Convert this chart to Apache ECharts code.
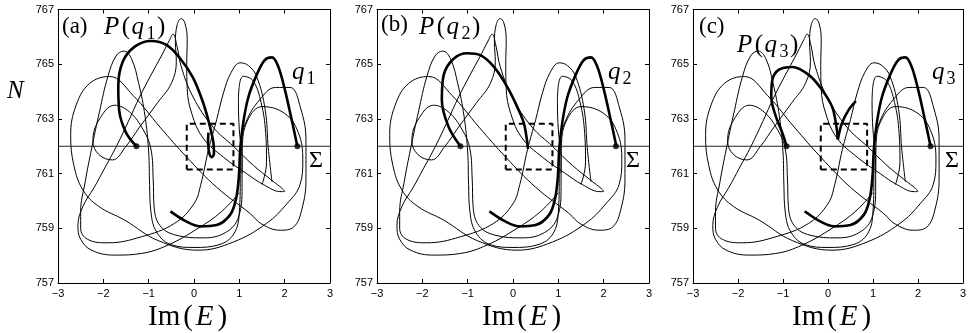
<!DOCTYPE html>
<html>
<head>
<meta charset="utf-8">
<script src="https://cdn.jsdelivr.net/npm/echarts@6/dist/echarts.min.js"></script>
<style>
  html, body { margin: 0; padding: 0; background: #fff; }
  #chart { width: 969px; height: 333px; }
</style>
</head>
<body>
<div id="chart"></div>
<script>
// background orbit, same in all three panels (Im(E), N)
const orbitA = [
  [1.72,760.7],[1.64,761.9],[1.57,763.34],[1.38,764.56],[1.2,764.95],[1.02,765.05],[0.82,764.7],[0.65,763.95],
  [0.5,762.97],[0.32,761.88],[0.15,760.6],[0.0,759.9],[-0.43,759.18],[-1.16,758.69],[-1.9,758.47],[-2.35,758.6],
  [-2.5,759.0],[-2.5,759.6],[-2.4,760.7],[-2.26,761.9],[-2.08,763.3],[-1.9,764.55],[-1.72,765.3],[-1.55,765.48],
  [-1.38,765.2],[-1.22,764.3],[-1.08,763.1],[-1.0,761.8],[-0.98,760.6],[-0.95,759.6],[-0.82,758.85],[-0.5,758.4],
  [0.0,758.3],[0.55,758.4],[0.88,758.8],[1.0,759.6],[1.02,760.8],[1.02,762.0],[1.15,762.9],[1.45,763.7],
  [1.8,764.15],[2.12,764.15],[2.35,763.4],[2.47,762.2],[2.47,760.8],[2.38,759.7],[2.2,759.05],[1.9,758.93],
  [1.5,759.15],[1.23,759.55],[0.5,760.5],[-0.16,761.6],[-0.75,762.7],[-1.34,763.85],[-1.86,764.55],[-2.3,764.3],
  [-2.6,763.5],[-2.72,762.4],[-2.65,761.3],[-2.45,760.4],[-2.1,759.8],[-1.53,759.3],[-0.79,758.55],[0.09,758.2],
  [0.87,758.5],[1.6,759.18],[2.05,759.9],[2.34,760.6],[2.4,761.5],[2.3,762.5],[2.0,763.2],[1.5,763.45],
  [1.2,763.0],[1.07,762.1],[1.06,761.0]
];
const orbitB = [
  [1.0,760.3],[0.6,759.6],[0.09,759.0],[-0.57,758.39],[-1.16,758.08],[-1.75,758.02],[-2.26,758.2],[-2.5,758.6],
  [-2.56,759.1],[-2.45,759.8],[-2.2,760.5],[-1.97,761.2],[-1.71,762.0],[-1.45,762.9],[-1.2,763.8],[-0.95,764.6],
  [-0.72,765.3],[-0.55,765.85],[-0.46,766.1],[-0.38,765.7],[-0.28,764.9],[-0.02,763.8],[0.42,762.7],[0.87,762.0],
  [1.31,761.3],[1.72,760.75],[1.95,760.45],[2.0,760.35],[1.92,760.34],[1.53,760.6],[1.16,761.0],[0.65,761.6],
  [0.2,762.3],[-0.05,763.2],[-0.15,764.1],[-0.16,765.0],[-0.15,765.9],[-0.2,766.5],[-0.28,766.67],[-0.37,766.45],
  [-0.41,765.8],[-0.39,765.1],[-0.5,764.3],[-0.8,763.6],[-1.2,762.7],[-1.5,762.0],[-1.8,761.5],[-2.1,761.7],
  [-2.23,762.2],[-2.1,762.95],[-1.75,763.5],[-1.42,763.25],[-1.12,762.6],[-0.95,761.9],[-0.9,760.8],[-0.88,759.8],
  [-0.75,759.1],[-0.4,758.75],[0.2,758.65],[0.7,758.85],[0.98,759.4],[1.06,760.5],[1.06,761.5],[1.0,762.6],
  [0.98,763.6],[1.09,764.56],[1.3,764.4],[1.48,763.6],[1.58,762.5],[1.6,761.4],[1.5,760.6]
];

// thick pieces
const preimage1 = [[-1.27,762.0],[-1.5,762.5],[-1.65,763.3],[-1.67,764.2],[-1.57,765.1],[-1.3,765.65],[-0.95,765.85],
  [-0.6,765.7],[-0.3,765.2],[-0.02,764.5],[0.2,763.6],[0.34,762.8],[0.43,762.1],[0.44,761.72],[0.39,761.6],
  [0.33,761.8],[0.31,762.2],[0.32,762.5]];
const preimage2 = [[-1.16,762.0],[-1.42,762.7],[-1.57,763.7],[-1.53,764.6],[-1.31,765.2],[-1.01,765.4],[-0.72,765.33],
  [-0.42,764.9],[-0.13,764.18],[0.09,763.45],[0.24,762.84],[0.31,762.2],[0.33,761.9]];
const preimage3 = [[-0.92,762.0],[-1.01,762.47],[-1.16,763.1],[-1.26,763.8],[-1.24,764.4],[-1.09,764.8],[-0.79,764.9],
  [-0.42,764.6],[-0.13,764.06],[0.09,763.45],[0.18,762.8],[0.22,762.25],[0.31,762.84],[0.46,763.33],[0.62,763.65]];
const cuspIndex3 = 11;
const qCurve = [[2.28,762.0],[2.15,763.0],[2.0,764.1],[1.85,764.95],[1.72,765.25],[1.56,765.15],[1.38,764.6],[1.2,763.8],
  [1.09,762.9],[1.02,761.9],[0.99,760.9],[0.93,760.1],[0.8,759.5],[0.5,759.12],[0.13,759.07],[-0.17,759.25],[-0.52,759.62]];

const dots = [
  [[-1.27,762],[2.28,762]],
  [[-1.16,762],[2.27,762]],
  [[-0.92,762],[2.28,762]]
];
const sigmaN = 762;
const boxX = [-0.16, 0.87];
const boxY = [761.15, 762.82];
const panelTags = ['a', 'b', 'c'];
const subIdx = ['1', '2', '3'];

const gridLeft = [58, 377, 693];
const gridTop = 9.5, gridW = 272, gridH = 273.5;

const chart = echarts.init(document.getElementById('chart'));

const grids = [], xAxes = [], yAxes = [], series = [];
const minus = v => (v < 0 ? '\u2212' + (-v) : String(v));
const axisCommon = {
  axisLine: { show: true, onZero: false, lineStyle: { color: '#000', width: 1 } },
  axisTick: { show: true, inside: true, length: 4, lineStyle: { color: '#000' } },
  splitLine: { show: false }
};

function thin(i, data) {
  return { type: 'line', xAxisIndex: i * 2, yAxisIndex: i * 2, data: data, smooth: 0.4,
    symbol: 'none', lineStyle: { color: '#000', width: 1 }, silent: true };
}
function thick(i, data) {
  return { type: 'line', xAxisIndex: i * 2, yAxisIndex: i * 2, data: data, smooth: 0.35,
    symbol: 'none', lineStyle: { color: '#000', width: 2.6 }, silent: true, z: 4 };
}

const preimages = [preimage1, preimage2, preimage3];

for (let i = 0; i < 3; i++) {
  grids.push({ left: gridLeft[i], top: gridTop, width: gridW, height: gridH, show: false });
  xAxes.push(Object.assign({ type: 'value', gridIndex: i, position: 'bottom', min: -3, max: 3, interval: 1,
    axisLabel: { color: '#000', fontSize: 11, fontFamily: 'Liberation Sans', margin: 5, formatter: minus } }, axisCommon));
  xAxes.push(Object.assign({ type: 'value', gridIndex: i, position: 'top', min: -3, max: 3, interval: 1,
    axisLabel: { show: false } }, axisCommon));
  yAxes.push(Object.assign({ type: 'value', gridIndex: i, position: 'left', min: 757, max: 767, interval: 2,
    axisLabel: { color: '#000', fontSize: 11, fontFamily: 'Liberation Sans', margin: 4 } }, axisCommon));
  yAxes.push(Object.assign({ type: 'value', gridIndex: i, position: 'right', min: 757, max: 767, interval: 2,
    axisLabel: { show: false } }, axisCommon));

  series.push(thin(i, orbitA));
  series.push(thin(i, orbitB));
  series.push({ type: 'line', xAxisIndex: i * 2, yAxisIndex: i * 2, data: [[-3, sigmaN], [3, sigmaN]],
    symbol: 'none', lineStyle: { color: '#222', width: 1 }, silent: true });
  series.push({ type: 'line', xAxisIndex: i * 2, yAxisIndex: i * 2,
    data: [[boxX[0], boxY[0]], [boxX[1], boxY[0]], [boxX[1], boxY[1]], [boxX[0], boxY[1]], [boxX[0], boxY[0]]],
    symbol: 'none', lineStyle: { color: '#000', width: 2, type: [6, 4] }, silent: true, z: 5 });
  if (i === 2) {
    series.push(thick(i, preimage3.slice(0, cuspIndex3 + 1)));
    series.push(thick(i, preimage3.slice(cuspIndex3)));
  } else {
    series.push(thick(i, preimages[i]));
  }
  series.push(thick(i, qCurve));
  series.push({ type: 'scatter', xAxisIndex: i * 2, yAxisIndex: i * 2, data: dots[i], symbolSize: 6,
    itemStyle: { color: '#000' }, silent: true, z: 6 });
}

// text with math-like italics and subscripts
const measureCtx = document.createElement('canvas').getContext('2d');
const SERIF = '"Liberation Serif", "DejaVu Serif", serif';
function fontOf(size, italic) { return (italic ? 'italic ' : '') + size + 'px ' + SERIF; }
function mathText(x, cy, size, gap, parts) {
  const out = [];
  let cx = x;
  parts.forEach(p => {
    const [txt, kind] = p;
    const sub = kind === 's';
    const fs = sub ? Math.round(size * 0.72) : size;
    const it = kind === 'i';
    measureCtx.font = fontOf(fs, it);
    out.push({ type: 'text', x: cx, y: cy + (sub ? size * 0.3 : 0), silent: true,
      style: { text: txt, font: fontOf(fs, it), fill: '#000', align: 'left', verticalAlign: 'middle' } });
    cx += measureCtx.measureText(txt).width + gap + (it ? 1 : 0);
  });
  return out;
}

const graphics = [];
const tagPos = [[62, 27], [381, 25], [699, 27]];
const pPos = [[104, 27], [419, 27], [737, 45]];
const qPos = [[292, 72], [608, 72], [932, 72]];
const sigmaPos = [[309, 161], [626, 161], [945, 161]];
const imPos = [148, 482, 792];
for (let i = 0; i < 3; i++) {
  graphics.push(...mathText(tagPos[i][0], tagPos[i][1], 23, 0, [['(' + panelTags[i] + ')', 'r']]));
  graphics.push(...mathText(pPos[i][0], pPos[i][1], 25, 1.5, [['P', 'i'], ['(', 'r'], ['q', 'i'], [subIdx[i], 's'], [')', 'r']]));
  graphics.push(...mathText(qPos[i][0], qPos[i][1], 25, 1, [['q', 'i'], [subIdx[i], 's']]));
  graphics.push(...mathText(sigmaPos[i][0], sigmaPos[i][1], 24, 0, [['\u03A3', 'r']]));
  graphics.push(...mathText(imPos[i], 317, 29, 3, [['Im', 'r'], ['(', 'r'], ['E', 'i'], [')', 'r']]));
}
graphics.push(...mathText(7, 91, 25, 0, [['N', 'i']]));

chart.setOption({
  animation: false,
  grid: grids,
  xAxis: xAxes,
  yAxis: yAxes,
  series: series,
  graphic: graphics
});
</script>
</body>
</html>
